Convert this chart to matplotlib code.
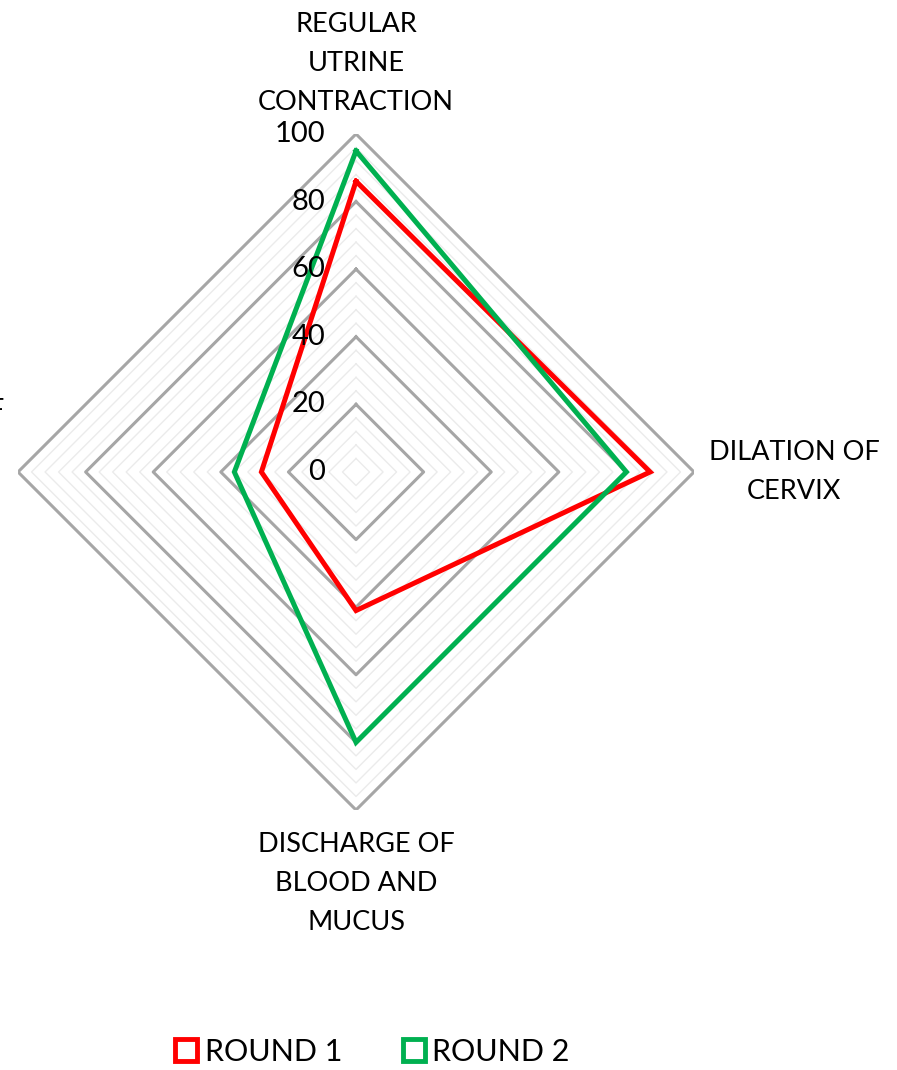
# radar chart: labour signs, round 1 vs round 2
import numpy as np
import matplotlib.pyplot as plt
from matplotlib.lines import Line2D

plt.rcParams['font.family'] = ['Lato', 'DejaVu Sans']

categories = ['REGULAR\nUTRINE\nCONTRACTION', 'DILATION OF\nCERVIX',
              'DISCHARGE OF\nBLOOD AND\nMUCUS', 'RUPTURE OF\nAMNION']
round1 = [86, 87, 41, 28]
round2 = [95, 80, 80, 36]
series_names = ['ROUND 1', 'ROUND 2']
series_colors = ['#FF0000', '#00B050']
major_ticks = [0, 20, 40, 60, 80, 100]
minor_step = 4

n = len(categories)
theta = np.linspace(0, 2 * np.pi, n, endpoint=False)
theta_closed = np.append(theta, theta[0])

fig = plt.figure(figsize=(8.97, 10.70), dpi=100)
ax = fig.add_axes([0.0201, 0.2430, 0.7536, 0.6318], projection='polar')
ax.set_theta_offset(np.pi / 2)
ax.set_theta_direction(-1)
ax.set_ylim(0, 100)
ax.axis('off')

# polygon gridlines (light minor, grey major)
for lvl in range(minor_step, 101, minor_step):
    if lvl % 20 == 0:
        continue
    ax.plot(theta_closed, [lvl] * (n + 1), color='#EBEBEB', lw=1.0, zorder=1)
for lvl in major_ticks[1:]:
    ax.plot(theta_closed, [lvl] * (n + 1), color='#A6A6A6', lw=2.2, zorder=2)

# data
for vals, name, col in zip([round1, round2], series_names, series_colors):
    ax.plot(theta_closed, vals + vals[:1], color=col, lw=3.6, zorder=3,
            solid_joinstyle='miter')

# radial tick labels
for v in major_ticks:
    ax.annotate(str(v), xy=(0, v), xytext=(-31, 0), textcoords='offset pixels',
                ha='right', va='center', fontsize=21, annotation_clip=False)

# category labels
label_offsets = [(0, 19, 'center', 'bottom'), (15, 0, 'left', 'center'),
                 (0, -22, 'center', 'top'), (-14, 42, 'right', 'center')]
for t, lab, (dx, dy, ha, va) in zip(theta, categories, label_offsets):
    ax.annotate(lab, xy=(t, 100), xytext=(dx, dy), textcoords='offset pixels',
                ha=ha, va=va, multialignment='center', fontsize=19.5,
                linespacing=1.7, annotation_clip=False)

handles = [Line2D([], [], ls='none', marker='s', markersize=16,
                  markerfacecolor='white', markeredgecolor=c, markeredgewidth=3.5)
           for c in series_colors]
fig.legend(handles, series_names, loc='center', bbox_to_anchor=(0.4136, 0.0168),
           ncol=2, frameon=False, fontsize=22, handletextpad=0.15,
           columnspacing=1.9, handlelength=0.9)

fig.savefig('out.png', dpi=100)
